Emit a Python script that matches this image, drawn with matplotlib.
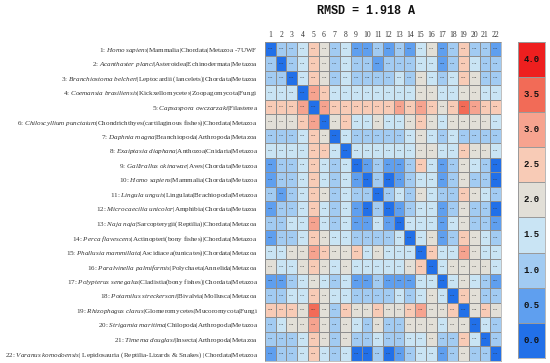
import matplotlib
matplotlib.use('Agg')
import matplotlib.pyplot as plt
import numpy as np
from matplotlib.colors import ListedColormap, BoundaryNorm
from matplotlib.transforms import blended_transform_factory

plt.rcParams['mathtext.fontset'] = 'custom'
plt.rcParams['mathtext.rm'] = 'Liberation Serif'
plt.rcParams['mathtext.it'] = 'Liberation Serif:italic'
plt.rcParams['mathtext.bf'] = 'Liberation Serif:bold'

# ---------------- data ----------------
title = "RMSD = 1.918 A"

species = ["Homo sapiens", "Acanthaster planci", "Branchiostoma belcheri",
           "Coemansia brasiliensis", "Capsaspora owczarzaki", "Chiloscyllium punctatum",
           "Daphnia magna", "Exaiptasia diaphana", "Gallirallus okinawae",
           "Homo sapiens", "Lingula unguis", "Microcaecilia unicolor", "Naja naja",
           "Perca flavescens", "Phallusia mammillata", "Paralvinella palmiformis",
           "Polypterus senegalus", "Potamilus streckersoni", "Rhizophagus clarus",
           "Strigamia maritima", "Timema douglasi", "Varanus komodoensis"]

taxonomy = ["|Mammalia|Chordata|Metazoa -7UWF",
            "|Asteroidea|Echinodermata|Metazoa",
            "|Leptocardii (lancelets)|Chordata|Metazoa",
            "|Kickxellomycetes|Zoopagomycota|Fungi",
            "|Filasterea",
            "|Chondrichthyes(cartilaginous fishes)|Chordata|Metazoa",
            "|Branchiopoda|Arthropoda|Metazoa",
            "|Anthozoa|Cnidaria|Metazoa",
            "|Aves|Chordata|Metazoa",
            "|Mammalia|Chordata|Metazoa",
            "|Lingulata|Brachiopoda|Metazoa",
            "|Amphibia|Chordata|Metazoa",
            "|Sarcopterygii(Reptilia)|Chordata|Metazoa",
            "|Actinopteri(bony fishes)|Chordata|Metazoa",
            "|Ascidiacea(tunicates)|Chordata|Metazoa",
            "|Polychaeta|Annelida|Metazoa",
            "|Cladistia(bony fishes)|Chordata|Metazoa",
            "|Bivalvia|Mollusca|Metazoa",
            "|Glomeromycetes|Mucoromycota|Fungi",
            "|Chilopoda|Arthropoda|Metazoa",
            "|Insecta|Arthropoda|Metazoa",
            "| Lepidosauria (Reptilia-Lizards & Snakes) |Chordata|Metazoa"]

col_labels = [str(i) for i in range(1, 23)]

rmsd = [
 [0.00,1.00,1.30,1.72,2.62,2.29,1.48,1.57,0.89,0.93,1.18,0.89,1.26,0.87,1.59,2.12,0.85,1.31,2.58,1.45,1.32,0.92],
 [1.00,0.00,1.30,1.76,2.77,2.04,1.44,1.56,1.03,1.08,0.83,1.04,1.30,1.14,1.69,1.90,0.86,1.40,2.61,1.73,1.43,1.08],
 [1.30,1.30,0.00,1.63,2.69,2.29,1.39,1.60,1.32,1.38,1.10,1.42,1.67,1.34,2.39,1.99,1.32,1.57,2.60,2.38,1.49,1.43],
 [1.72,1.76,1.63,0.00,3.26,2.67,1.63,1.62,1.78,1.75,1.80,1.63,1.62,1.87,2.30,2.25,1.72,1.74,2.34,2.13,1.90,1.61],
 [2.62,2.77,2.69,3.26,0.00,3.47,2.60,2.66,2.78,2.60,2.72,2.66,3.01,2.65,3.34,2.76,2.45,2.64,3.67,3.33,2.61,2.66],
 [2.29,2.04,2.29,2.67,3.47,0.00,2.18,2.71,1.85,1.91,2.38,1.88,1.90,2.28,2.52,2.32,1.85,2.05,2.48,2.24,2.27,1.94],
 [1.48,1.44,1.39,1.63,2.60,2.18,0.00,1.65,1.28,1.30,1.32,1.31,1.43,1.58,2.38,1.92,1.35,1.67,1.27,1.08,1.33,1.32],
 [1.57,1.56,1.60,1.62,2.66,2.71,1.65,0.00,1.65,1.69,1.62,1.79,1.66,1.73,2.12,2.25,1.57,1.62,2.65,2.19,2.01,1.72],
 [0.89,1.03,1.32,1.78,2.78,1.85,1.28,1.65,0.00,0.53,1.10,0.57,0.82,1.11,2.62,1.83,0.81,1.46,2.39,1.59,1.49,0.33],
 [0.93,1.08,1.38,1.75,2.60,1.91,1.30,1.69,0.53,0.00,1.37,0.38,0.75,1.16,1.91,1.88,0.81,1.49,2.14,1.40,1.41,0.37],
 [1.18,0.83,1.10,1.80,2.72,2.38,1.32,1.62,1.10,1.37,0.00,1.29,1.71,1.13,2.12,1.84,1.15,1.24,2.54,2.38,1.63,1.43],
 [0.89,1.04,1.42,1.63,2.66,1.88,1.31,1.79,0.57,0.38,1.29,0.00,0.77,1.13,1.88,1.84,0.70,1.42,2.39,1.48,1.32,0.47],
 [1.26,1.30,1.67,1.62,3.01,1.90,1.43,1.66,0.82,0.75,1.71,0.77,0.00,1.63,1.64,1.81,0.80,1.66,2.27,1.47,1.31,0.62],
 [0.87,1.14,1.34,1.87,2.65,2.28,1.58,1.73,1.11,1.16,1.13,1.13,1.63,0.00,1.80,2.23,0.80,1.34,2.64,2.03,1.79,1.09],
 [1.59,1.69,2.39,2.30,3.34,2.52,2.38,2.12,2.62,1.91,2.12,1.88,1.64,1.80,0.00,2.65,1.62,1.62,3.36,2.12,1.91,1.62],
 [2.12,1.90,1.99,2.25,2.76,2.32,1.92,2.25,1.83,1.88,1.84,1.84,1.81,2.23,2.65,0.00,1.86,2.18,2.30,2.42,2.13,1.93],
 [0.85,0.86,1.32,1.72,2.45,1.85,1.35,1.57,0.81,0.81,1.15,0.70,0.80,0.80,1.62,1.86,0.00,1.54,2.23,1.61,1.38,0.67],
 [1.31,1.40,1.57,1.74,2.64,2.05,1.67,1.62,1.46,1.49,1.24,1.42,1.66,1.34,1.62,2.18,1.54,0.00,2.72,2.22,1.38,1.06],
 [2.58,2.61,2.60,2.34,3.67,2.48,1.27,2.65,2.39,2.14,2.54,2.39,2.27,2.64,3.36,2.30,2.23,2.72,0.00,2.38,2.64,2.21],
 [1.45,1.73,2.38,2.13,3.33,2.24,1.08,2.19,1.59,1.40,2.38,1.48,1.47,2.03,2.12,2.42,1.61,2.22,2.38,0.00,1.79,1.47],
 [1.32,1.43,1.49,1.90,2.61,2.27,1.33,2.01,1.49,1.41,1.63,1.32,1.31,1.79,1.91,2.13,1.38,1.38,2.64,1.79,0.00,1.40],
 [0.92,1.08,1.43,1.61,2.66,1.94,1.32,1.72,0.33,0.37,1.43,0.47,0.62,1.09,1.62,1.93,0.67,1.06,2.21,1.47,1.40,0.00],
]

cbar_levels = [0.0, 0.5, 1.0, 1.5, 2.0, 2.5, 3.0, 3.5, 4.0]
bin_colors = ['#2270e8', '#5f9fef', '#a2cbf2', '#c9e4f4', '#e2dfd7',
              '#f8cbb6', '#f6a38f', '#f26b57', '#ee1f1f']

# ---------------- figure ----------------
W, H = 550, 363
fig = plt.figure(figsize=(W / 100, H / 100), dpi=100)
fig.patch.set_facecolor('white')

M = np.array(rmsd)
n = M.shape[0]
cmap = ListedColormap(bin_colors)
norm = BoundaryNorm(cbar_levels + [100.0], cmap.N)

hm_left, hm_right, hm_top, hm_bot = 265, 501, 41.7, 360.5
ax = fig.add_axes([hm_left / W, 1 - hm_bot / H, (hm_right - hm_left) / W, (hm_bot - hm_top) / H])
ax.pcolormesh(np.arange(n + 1), np.arange(n + 1), M, cmap=cmap, norm=norm,
              edgecolors='#8e8e8e', linewidth=0.4)
ax.set_xlim(0, n)
ax.set_ylim(n, 0)
for i in range(n):
    for j in range(n):
        ax.text(j + 0.5, i + 0.5, f"{M[i, j]:.2f}", ha='center', va='center',
                fontsize=1.7, color='#303030')
ax.xaxis.tick_top()
ax.set_xticks(np.arange(n) + 0.5)
ax.set_xticklabels(col_labels, fontfamily='Liberation Serif', fontsize=5.5, color='#333333')
ax.tick_params(axis='x', length=0, pad=2)
ax.set_yticks([])
for s in ax.spines.values():
    s.set_edgecolor('#8e8e8e')
    s.set_linewidth(0.4)

# colorbar
cb_left, cb_right, cb_top, cb_bot = 518, 545, 41.7, 358
cax = fig.add_axes([cb_left / W, 1 - cb_bot / H, (cb_right - cb_left) / W, (cb_bot - cb_top) / H])
cvals = np.array(cbar_levels[::-1]).reshape(-1, 1)
cax.pcolormesh(np.arange(2), np.arange(len(cvals) + 1), cvals, cmap=cmap, norm=norm,
               edgecolors='#9a9a9a', linewidth=0.5)
cax.set_ylim(len(cvals), 0)
cax.set_xlim(0, 1)
for k, v in enumerate(cvals[:, 0]):
    cax.text(0.5, k + 0.5, f"{v:.1f}", ha='center', va='center', fontsize=6.5,
             fontweight='bold', fontfamily='Liberation Mono', color='#111111')
cax.set_xticks([]); cax.set_yticks([])
for s in cax.spines.values():
    s.set_edgecolor('#9a9a9a'); s.set_linewidth(0.5)

# title
fig.text(366 / W, 1 - 11.5 / H, title, ha='center', va='center', fontsize=8.5,
         fontweight='bold', fontfamily='Liberation Mono', color='#111111')

# row labels with italic species names (mathtext italic)
tr = blended_transform_factory(fig.transFigure, ax.transData)
x_right = 258 / W
fs = 5.15
lab_color = '#333333'
for i in range(n):
    sp = species[i].replace(' ', r'\ ')
    label = f"{i + 1}: " + r"$\mathit{" + sp + "}$" + taxonomy[i]
    fig.text(x_right, i + 0.5, label, transform=tr, ha='right', va='center_baseline',
             fontsize=fs, fontfamily='Liberation Serif', color=lab_color)

fig.savefig('out.png', dpi=100)
